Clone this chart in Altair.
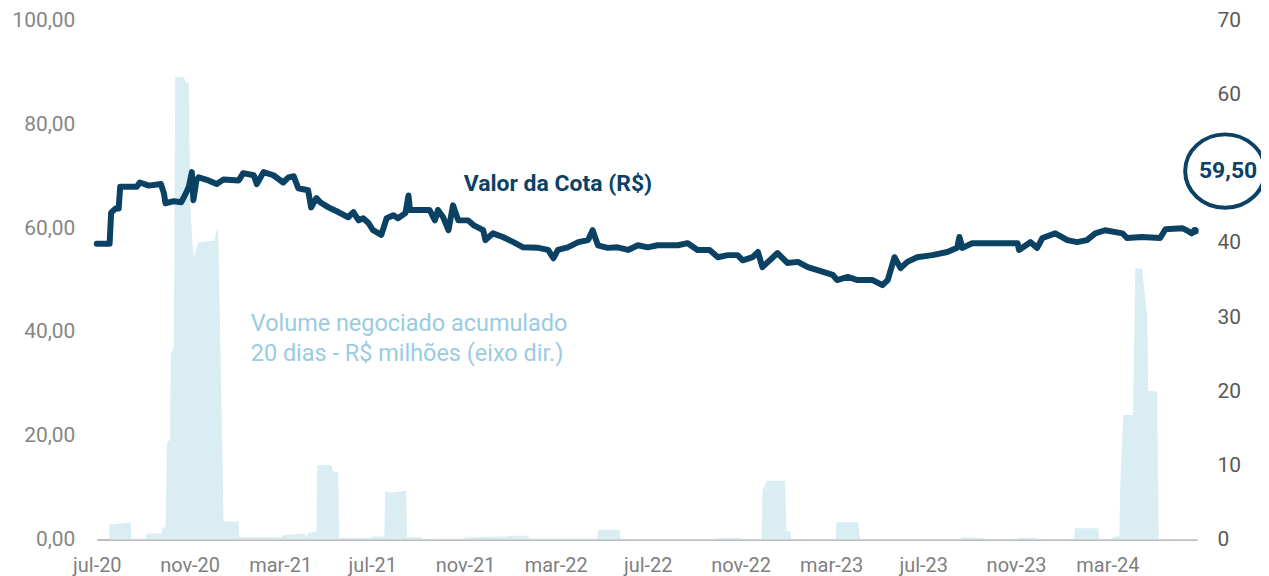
import altair as alt
import pandas as pd

# ---------------- data ----------------
cota_dates = [
    "2020-07-01", "2020-07-18", "2020-07-20", "2020-07-26", "2020-07-30", "2020-08-01",
    "2020-08-23", "2020-08-27", "2020-09-08", "2020-09-24", "2020-09-28", "2020-09-30",
    "2020-10-11", "2020-10-21", "2020-10-27", "2020-10-31", "2020-11-04", "2020-11-06",
    "2020-11-10", "2020-11-13", "2020-11-26", "2020-12-07", "2020-12-16", "2021-01-05",
    "2021-01-11", "2021-01-25", "2021-01-29", "2021-02-07", "2021-02-20", "2021-03-05",
    "2021-03-12", "2021-03-19", "2021-03-25", "2021-04-07", "2021-04-11", "2021-04-18",
    "2021-04-23", "2021-05-04", "2021-05-17", "2021-05-30", "2021-06-06", "2021-06-13",
    "2021-06-19", "2021-06-26", "2021-07-02", "2021-07-13", "2021-07-20", "2021-07-29",
    "2021-08-04", "2021-08-14", "2021-08-18", "2021-08-20", "2021-08-31", "2021-09-15",
    "2021-09-22", "2021-09-26", "2021-10-03", "2021-10-10", "2021-10-16", "2021-10-23",
    "2021-11-05", "2021-11-12", "2021-11-25", "2021-11-28", "2021-12-08", "2021-12-21",
    "2022-01-04", "2022-01-17", "2022-02-06", "2022-02-19", "2022-02-26", "2022-03-04",
    "2022-03-17", "2022-03-31", "2022-04-13", "2022-04-19", "2022-04-26", "2022-05-09",
    "2022-05-22", "2022-06-05", "2022-06-18", "2022-07-01", "2022-07-14", "2022-08-10",
    "2022-08-23", "2022-09-05", "2022-09-21", "2022-10-02", "2022-10-15", "2022-10-28",
    "2022-11-04", "2022-11-17", "2022-11-24", "2022-11-30", "2022-12-20", "2023-01-02",
    "2023-01-16", "2023-01-29", "2023-02-11", "2023-03-03", "2023-03-09", "2023-03-23",
    "2023-04-05", "2023-04-25", "2023-05-08", "2023-05-15", "2023-05-24", "2023-06-01",
    "2023-06-10", "2023-06-23", "2023-07-13", "2023-08-02", "2023-08-15", "2023-08-18",
    "2023-08-22", "2023-09-04", "2023-10-07", "2023-11-03", "2023-11-05", "2023-11-20",
    "2023-11-29", "2023-12-06", "2023-12-23", "2024-01-08", "2024-01-21", "2024-02-03",
    "2024-02-14", "2024-02-27", "2024-03-21", "2024-03-27", "2024-04-16", "2024-05-10",
    "2024-05-17", "2024-06-08", "2024-06-14", "2024-06-21", "2024-06-25",
]
cota_values = [
    57.0, 57.0, 63.0, 63.8, 63.8, 68.0,
    68.0, 68.8, 68.2, 68.5, 66.7, 64.8,
    65.2, 65.0, 66.7, 68.0, 70.8, 65.4,
    69.2, 69.8, 69.2, 68.5, 69.4, 69.2,
    70.6, 70.2, 68.5, 70.8, 70.2, 68.8,
    69.8, 70.0, 67.7, 67.3, 64.0, 65.8,
    65.0, 64.0, 63.1, 62.1, 63.1, 61.5,
    61.9, 61.0, 59.6, 58.7, 61.9, 62.5,
    61.9, 62.9, 66.3, 63.5, 63.5, 63.5,
    61.5, 63.5, 62.1, 59.6, 64.4, 61.5,
    61.5, 60.6, 59.6, 57.7, 59.0, 58.3,
    57.3, 56.3, 56.2, 55.8, 54.2, 55.8,
    56.3, 57.3, 57.7, 59.6, 56.7, 56.2,
    56.3, 55.8, 56.7, 56.3, 56.7, 56.7,
    57.1, 55.8, 55.8, 54.4, 54.8, 54.8,
    53.8, 54.4, 55.4, 52.5, 55.2, 53.3,
    53.5, 52.5, 51.9, 51.0, 50.0, 50.6,
    50.0, 50.0, 49.0, 50.0, 54.4, 52.3,
    53.5, 54.4, 54.8, 55.4, 56.2, 58.3,
    56.2, 57.1, 57.1, 57.1, 55.8, 57.3,
    56.2, 58.1, 59.0, 57.7, 57.3, 57.7,
    59.0, 59.6, 59.0, 58.1, 58.3, 58.1,
    59.8, 60.0, 59.6, 59.0, 59.5,
]

vol_dates = [
    "2020-07-01", "2020-07-17", "2020-07-18", "2020-08-15", "2020-08-16", "2020-09-04",
    "2020-09-05", "2020-09-25", "2020-09-26", "2020-09-30", "2020-10-02", "2020-10-06",
    "2020-10-07", "2020-10-11", "2020-10-13", "2020-10-24", "2020-10-27", "2020-10-31",
    "2020-11-02", "2020-11-06", "2020-11-13", "2020-12-04", "2020-12-07", "2020-12-09",
    "2020-12-16", "2021-01-05", "2021-01-06", "2021-03-03", "2021-03-05", "2021-04-02",
    "2021-04-05", "2021-04-07", "2021-04-18", "2021-04-19", "2021-05-08", "2021-05-10",
    "2021-05-17", "2021-05-18", "2021-06-30", "2021-07-01", "2021-07-17", "2021-07-18",
    "2021-07-26", "2021-08-04", "2021-08-15", "2021-08-16", "2021-09-04", "2021-09-05",
    "2021-10-31", "2021-11-01", "2021-12-28", "2021-12-31", "2022-01-23", "2022-01-26",
    "2022-04-25", "2022-04-26", "2022-05-25", "2022-05-26", "2022-09-30", "2022-10-02",
    "2022-11-01", "2022-11-02", "2022-11-29", "2022-11-30", "2022-12-06", "2022-12-30",
    "2023-01-01", "2023-01-06", "2023-01-07", "2023-03-07", "2023-03-08", "2023-04-06",
    "2023-04-08", "2023-08-18", "2023-08-23", "2023-09-17", "2023-09-21", "2023-11-03",
    "2023-11-05", "2023-11-28", "2023-11-29", "2024-01-17", "2024-01-18", "2024-02-18",
    "2024-02-19", "2024-03-07", "2024-03-09", "2024-03-17", "2024-03-18", "2024-03-22",
    "2024-04-04", "2024-04-07", "2024-04-16", "2024-04-23", "2024-04-24", "2024-05-06",
    "2024-05-08", "2024-06-28",
]
vol_values = [
    0.0, 0.0, 2.0, 2.3, 0.1, 0.1,
    0.8, 0.8, 1.6, 1.6, 13.0, 13.5,
    25.0, 26.0, 62.4, 62.4, 61.8, 61.5,
    45.0, 38.0, 40.1, 40.3, 41.9, 41.5,
    2.4, 2.4, 0.3, 0.3, 0.6, 0.8,
    0.3, 0.9, 1.0, 10.0, 10.0, 9.2,
    9.0, 0.2, 0.2, 0.4, 0.4, 6.5,
    6.3, 6.4, 6.6, 0.3, 0.3, 0.05,
    0.1, 0.3, 0.4, 0.5, 0.5, 0.1,
    0.1, 1.3, 1.3, 0.05, 0.05, 0.2,
    0.2, 0.05, 0.05, 6.6, 7.9, 7.9,
    1.1, 1.1, 0.05, 0.05, 2.3, 2.3,
    0.05, 0.05, 0.3, 0.2, 0.05, 0.05,
    0.2, 0.2, 0.05, 0.05, 1.5, 1.5,
    0.05, 0.05, 0.4, 0.4, 7.0, 16.8,
    16.8, 36.6, 36.5, 30.0, 20.0, 20.0,
    0.05, 0.05,
]

tick_dates = ["2020-07-01", "2020-11-01", "2021-03-01", "2021-07-01", "2021-11-01",
              "2022-03-01", "2022-07-01", "2022-11-01", "2023-03-01", "2023-07-01",
              "2023-11-01", "2024-03-01"]
# shown as "%b-%y" with Portuguese month abbreviations: jul-20, nov-20, mar-21, ...
month_abbr = ["jan", "fev", "mar", "abr", "mai", "jun",
              "jul", "ago", "set", "out", "nov", "dez"]
left_ticks = [0, 20, 40, 60, 80, 100]
right_ticks = [0, 10, 20, 30, 40, 60, 70]   # the 50 label is covered by the highlight

cota_title = "Valor da Cota (R$)"
vol_title_lines = ["Volume negociado acumulado", "20 dias - R$ milhões (eixo dir.)"]
last_label = f"{cota_values[-1]:.2f}".replace(".", ",")

# ---------------- styling / positions ----------------
NAVY = "#0b4264"
LIGHT = "#daedf3"
VOLTXT = "#9acbe1"
FONT = "Roboto"


def ms(s):
    return int(pd.Timestamp(s, tz="UTC").value // 10**6)


x_scale = alt.Scale(type="utc", domain=[ms("2020-07-01"), ms("2024-06-28")])


def left_scale():
    return alt.Scale(domain=[0, 100], nice=False, zero=True)


right_scale = alt.Scale(domain=[0, 70], nice=False)

x_axis = alt.Axis(
    values=[ms(d) for d in tick_dates], format="%b-%y", formatType="time",
    title=None, grid=False, ticks=False,
    domainColor="#a6a6a6", domainWidth=1.5,
    labelFont=FONT, labelFontSize=20, labelColor="#7f7f7f", labelPadding=16,
    labelFlush=False,
)
left_axis = alt.Axis(
    values=left_ticks, orient="left", format=".2f",
    title=None, grid=False, ticks=False, domain=False,
    labelFont=FONT, labelFontSize=21, labelColor="#858585", labelPadding=22,
)
right_axis = alt.Axis(
    values=right_ticks, orient="right", format="d",
    title=None, grid=False, ticks=False, domain=False,
    labelFont=FONT, labelFontSize=21, labelColor="#595959", labelPadding=20,
)


def X():
    # the same shared x scale and axis on every layer
    return alt.X("date:T", scale=x_scale, axis=x_axis)


cota_df = pd.DataFrame({"date": cota_dates, "v": cota_values})
vol_df = pd.DataFrame({"date": vol_dates, "v": vol_values})

vol = alt.Chart(vol_df).mark_area(color=LIGHT, interpolate="linear").encode(
    x=X(),
    y=alt.Y("v:Q", scale=right_scale, axis=right_axis),
)

line = alt.Chart(cota_df).mark_line(
    color=NAVY, strokeWidth=6, strokeJoin="round", strokeCap="round"
).encode(
    x=X(),
    y=alt.Y("v:Q", scale=left_scale(), axis=left_axis),
)

last_df = pd.DataFrame({"date": [cota_dates[-1]], "v": [cota_values[-1]]})
dot = alt.Chart(last_df).mark_circle(color=NAVY, size=60, opacity=1).encode(
    x=X(),
    y=alt.Y("v:Q", scale=left_scale(), axis=None),
)

ellipse_df = pd.DataFrame({"date": ["2024-08-04"], "v": [71.0]})
ellipse = alt.Chart(ellipse_df).mark_point(
    shape="M -1 0 A 1 0.92 0 1 1 1 0 A 1 0.92 0 1 1 -1 0 Z",
    filled=False, fill="white", fillOpacity=1, stroke=NAVY, strokeWidth=4,
    size=6400, opacity=1,
).encode(
    x=X(),
    y=alt.Y("v:Q", scale=left_scale(), axis=None),
)

label_df = pd.DataFrame({"date": ["2024-08-08"], "v": [71.0], "t": [last_label]})
label = alt.Chart(label_df).mark_text(
    font=FONT, fontSize=23, fontWeight="bold", color=NAVY, align="center", baseline="middle"
).encode(
    x=X(),
    y=alt.Y("v:Q", scale=left_scale(), axis=None),
    text="t:N",
)

cota_txt_df = pd.DataFrame({"date": ["2022-03-04"], "v": [68.6], "t": [cota_title]})
cota_txt = alt.Chart(cota_txt_df).mark_text(
    font=FONT, fontSize=23, fontWeight="bold", color=NAVY, align="center", baseline="middle"
).encode(
    x=X(),
    y=alt.Y("v:Q", scale=left_scale(), axis=None),
    text="t:N",
)

vol_txt_df = pd.DataFrame({"date": ["2021-01-21", "2021-01-21"], "v": [41.5, 35.8],
                           "t": vol_title_lines})
vol_txt = alt.Chart(vol_txt_df).mark_text(
    font=FONT, fontSize=23.5, color=VOLTXT, align="left", baseline="middle"
).encode(
    x=X(),
    y=alt.Y("v:Q", scale=left_scale(), axis=None),
    text="t:N",
)

locale = {
    "number": {"decimal": ",", "thousands": ".", "grouping": [3], "currency": ["R$ ", ""]},
    "time": {
        "dateTime": "%A, %e de %B de %Y. %X", "date": "%d/%m/%Y", "time": "%H:%M:%S",
        "periods": ["AM", "PM"],
        "days": ["domingo", "segunda", "terça", "quarta", "quinta", "sexta", "sábado"],
        "shortDays": ["dom", "seg", "ter", "qua", "qui", "sex", "sáb"],
        "months": ["janeiro", "fevereiro", "março", "abril", "maio", "junho", "julho",
                   "agosto", "setembro", "outubro", "novembro", "dezembro"],
        "shortMonths": month_abbr,
    },
}

chart = alt.layer(vol, line, dot, ellipse, label, cota_txt, vol_txt).resolve_scale(
    y="independent"
).properties(
    width=1103,
    height=520,
    padding={"left": 89, "top": 12, "right": 64, "bottom": 36},
    autosize=alt.AutoSizeParams(type="none"),
).configure(locale=locale).configure_view(strokeWidth=0)

chart.save("out.html", embed_options={"renderer": "svg", "actions": False})
